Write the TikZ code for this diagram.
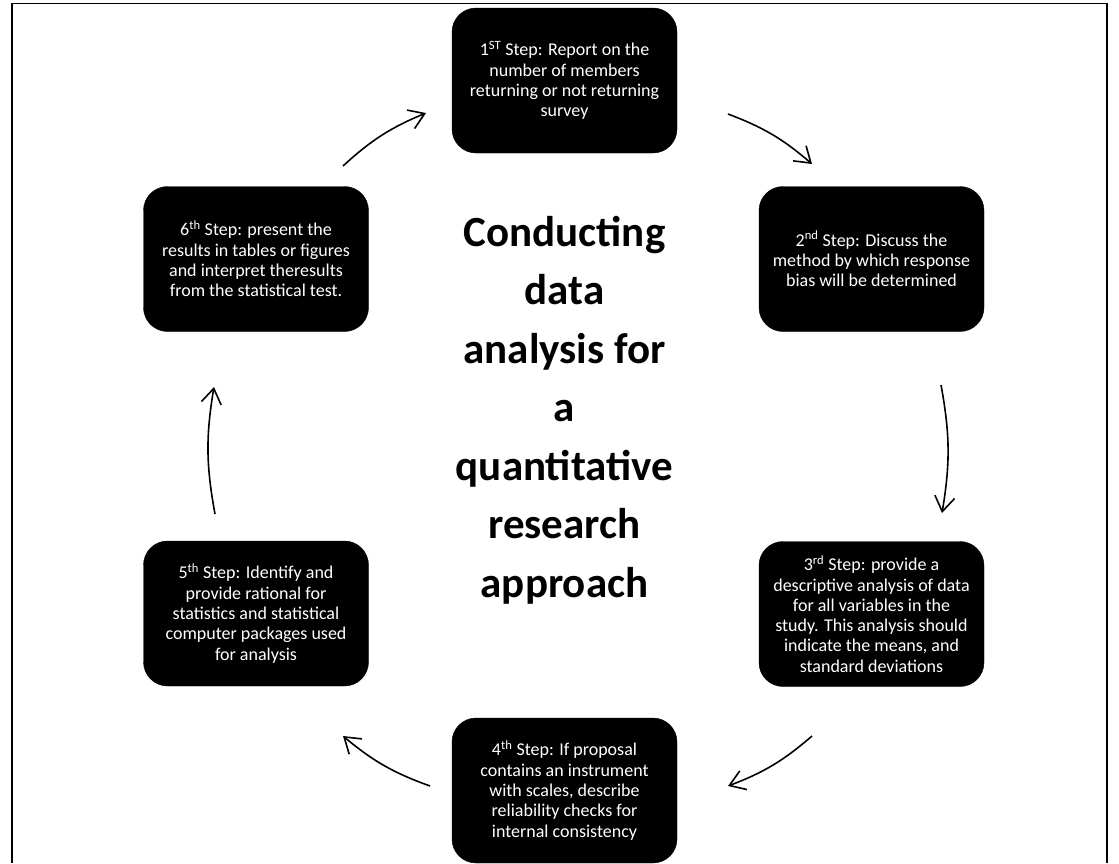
\documentclass[tikz,border=0pt]{standalone}
\usepackage{fontspec}
\setmainfont{Carlito}
\usetikzlibrary{arrows.meta}
\begin{document}
\begin{tikzpicture}[x=1pt,y=-1pt,
  stepbox/.style={fill=black, draw=black, rounded corners=24pt, text=white,
    align=center, minimum width=225pt, minimum height=145pt, inner sep=0pt,
    font=\fontsize{18}{20.3}\selectfont},
  cyc/.style={line width=1.6pt,
    -{Straight Barb[length=15pt,width=20pt,line width=1.6pt]}, bend left=10},
  titletext/.style={align=center, inner sep=0pt,
    font=\fontsize{43}{58.5}\selectfont\bfseries},
]
\useasboundingbox (0,0) rectangle (1119,863);
% open frame around the cycle
\draw[line width=1.2pt] (12,863) -- (12,3.5) -- (1107,3.5) -- (1107,863);

% the six steps
\node[stepbox] (s1) at (564.5,80.5) {1\textsuperscript{ST} Step: Report on the\\number of members\\returning or not returning\\survey};
\node[stepbox] (s2) at (871.5,259) {2\textsuperscript{nd} Step: Discuss the\\method by which response\\bias will be determined};
\node[stepbox] (s3) at (871.5,614) {3\textsuperscript{rd} Step: provide a\\descriptive analysis of data\\for all variables in the\\study. This analysis should\\indicate the means, and\\standard deviations};
\node[stepbox] (s4) at (564.5,790.5) {4\textsuperscript{th} Step: If proposal\\contains an instrument\\with scales, describe\\reliability checks for\\internal consistency};
\node[stepbox] (s5) at (256,613.5) {5\textsuperscript{th} Step: Identify and\\provide rational for\\statistics and statistical\\computer packages used\\for analysis};
\node[stepbox] (s6) at (256,259) {6\textsuperscript{th} Step: present the\\results in tables or figures\\and interpret theresults\\from the statistical test.};

% centre title
\node[titletext] (title) at (564.5,410) {Conducting\\data\\analysis for\\a\\quantitative\\research\\approach};

% arrow end points between the steps
\coordinate (a1s) at (343,166);  \coordinate (a1e) at (426,113);
\coordinate (a2s) at (728,114);  \coordinate (a2e) at (812,164);
\coordinate (a3s) at (941,385);  \coordinate (a3e) at (942,513);
\coordinate (a4s) at (812,736);  \coordinate (a4e) at (728,786);
\coordinate (a5s) at (430,786);  \coordinate (a5e) at (343,736);
\coordinate (a6s) at (215,514);  \coordinate (a6e) at (214,387);

\draw[cyc] (a1s) to (a1e);
\draw[cyc] (a2s) to (a2e);
\draw[cyc] (a3s) to (a3e);
\draw[cyc] (a4s) to (a4e);
\draw[cyc] (a5s) to (a5e);
\draw[cyc] (a6s) to (a6e);
\end{tikzpicture}
\end{document}
